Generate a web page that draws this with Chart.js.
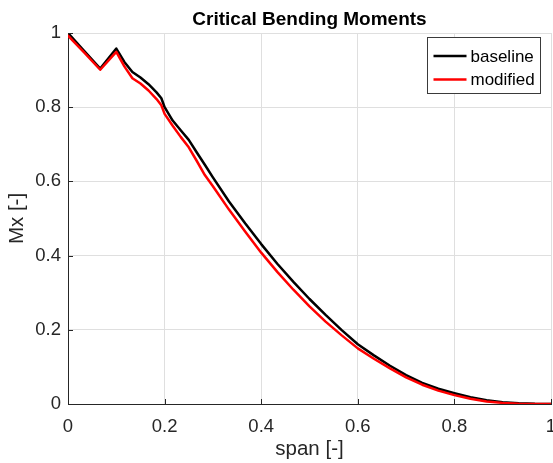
<!DOCTYPE html>
<html>
<head>
<meta charset="utf-8">
<script src="https://cdn.jsdelivr.net/npm/chart.js@4/dist/chart.umd.min.js"></script>
<style>
  html, body { margin: 0; padding: 0; background: #ffffff; }
  #wrap { width: 553px; height: 463px; position: relative; }
</style>
</head>
<body>
<div id="wrap"><canvas id="c" width="553" height="463"></canvas></div>
<script>
// Spanwise stations (normalised span) shared by both series
const span = [0, 0.0333, 0.0667, 0.1, 0.1167, 0.1333, 0.15, 0.1667, 0.1833, 0.1933,
  0.2, 0.2167, 0.2333, 0.25, 0.2667, 0.2833, 0.3, 0.3333, 0.3667, 0.4,
  0.4333, 0.4667, 0.5, 0.5333, 0.5667, 0.6, 0.6333, 0.6667, 0.7, 0.7333,
  0.7667, 0.8, 0.8333, 0.8667, 0.9, 0.9333, 0.9667, 1];

// Normalised critical bending moment Mx
const baseline = [1.000, 0.952, 0.904, 0.958, 0.922, 0.895, 0.880, 0.862, 0.840, 0.824,
  0.800, 0.764, 0.738, 0.712, 0.678, 0.645, 0.611, 0.546, 0.487, 0.431,
  0.378, 0.329, 0.283, 0.240, 0.199, 0.161, 0.131, 0.103, 0.078, 0.057,
  0.041, 0.029, 0.018, 0.010, 0.005, 0.002, 0.0005, 0];

const modified = [0.993, 0.948, 0.901, 0.949, 0.910, 0.878, 0.864, 0.845, 0.822, 0.805,
  0.782, 0.750, 0.720, 0.692, 0.655, 0.617, 0.587, 0.524, 0.465, 0.408,
  0.356, 0.308, 0.263, 0.222, 0.185, 0.150, 0.122, 0.096, 0.072, 0.052,
  0.036, 0.024, 0.014, 0.007, 0.003, 0.001, 0, 0];

const seriesNames = ['baseline', 'modified'];
const seriesColors = ['#000000', '#ff0000'];

const xTicks = [0, 0.2, 0.4, 0.6, 0.8, 1];
const yTicks = [0, 0.2, 0.4, 0.6, 0.8, 1];
const tickLabel = v => String(Math.round(v * 10) / 10);

const FONT = '"Liberation Sans", Arial, Helvetica, sans-serif';
const AXIS_COLOR = '#262626';
const GRID_COLOR = '#dfdfdf';

const toPoints = ys => span.map((x, i) => ({ x: x, y: ys[i] }));

// Inward tick marks on the left and bottom axes
const innerTicks = {
  id: 'innerTicks',
  afterDatasetsDraw(chart) {
    const { ctx, chartArea: a, scales } = chart;
    const len = 5;
    ctx.save();
    ctx.strokeStyle = AXIS_COLOR;
    ctx.lineWidth = 1;
    ctx.beginPath();
    xTicks.forEach(v => {
      const px = Math.round(scales.x.getPixelForValue(v)) + 0.5;
      ctx.moveTo(px, a.bottom);
      ctx.lineTo(px, a.bottom - len);
    });
    yTicks.forEach(v => {
      const py = Math.round(scales.y.getPixelForValue(v)) + 0.5;
      ctx.moveTo(a.left, py);
      ctx.lineTo(a.left + len, py);
    });
    ctx.stroke();
    ctx.restore();
  }
};

// Boxed legend in the upper-right corner of the plot area
const boxLegend = {
  id: 'boxLegend',
  afterDraw(chart) {
    const { ctx, chartArea: a } = chart;
    const w = 113, h = 56;
    const x0 = Math.round(a.right - 11 - w) + 0.5;
    const y0 = Math.round(a.top + 4) + 0.5;
    ctx.save();
    ctx.fillStyle = '#ffffff';
    ctx.fillRect(x0, y0, w, h);
    ctx.strokeStyle = '#3a3a3a';
    ctx.lineWidth = 1;
    ctx.strokeRect(x0, y0, w, h);
    ctx.font = '17px ' + FONT;
    ctx.textBaseline = 'middle';
    ctx.textAlign = 'left';
    chart.data.datasets.forEach((ds, i) => {
      const ry = y0 + 18.5 + i * 23.5;
      ctx.strokeStyle = ds.borderColor;
      ctx.lineWidth = 2.5;
      ctx.beginPath();
      ctx.moveTo(x0 + 6, ry);
      ctx.lineTo(x0 + 39, ry);
      ctx.stroke();
      ctx.fillStyle = '#000000';
      ctx.fillText(ds.label, x0 + 43, ry + 1);
    });
    ctx.restore();
  }
};

new Chart(document.getElementById('c'), {
  type: 'scatter',
  data: {
    datasets: [
      { label: seriesNames[0], data: toPoints(baseline), borderColor: seriesColors[0],
        backgroundColor: seriesColors[0], order: 2 },
      { label: seriesNames[1], data: toPoints(modified), borderColor: seriesColors[1],
        backgroundColor: seriesColors[1], order: 1 }
    ]
  },
  options: {
    responsive: false,
    animation: false,
    showLine: true,
    layout: { padding: { left: 0, right: 2, top: 0, bottom: 0 } },
    elements: {
      line: { borderWidth: 2.5, tension: 0, borderCapStyle: 'round', borderJoinStyle: 'round' },
      point: { radius: 0, hoverRadius: 0 }
    },
    plugins: {
      legend: { display: false },
      tooltip: { enabled: false },
      title: {
        display: true,
        text: 'Critical Bending Moments',
        color: '#000000',
        font: { family: FONT, size: 19, weight: 'bold', lineHeight: 1.2 },
        padding: { top: 8, bottom: 2.2 },
        fullSize: false
      }
    },
    scales: {
      x: {
        type: 'linear',
        min: 0, max: 1,
        afterBuildTicks: s => { s.ticks = xTicks.map(v => ({ value: v })); },
        afterFit: s => { s.height = 59; s.paddingLeft = 0; s.paddingRight = 0; },
        ticks: {
          callback: tickLabel,
          color: AXIS_COLOR,
          font: { family: FONT, size: 18.5 },
          padding: 12,
          maxRotation: 0
        },
        grid: { color: GRID_COLOR, lineWidth: 1, drawTicks: false },
        border: { color: AXIS_COLOR, width: 1 },
        title: {
          display: true,
          text: 'span [-]',
          color: AXIS_COLOR,
          font: { family: FONT, size: 20.5 },
          padding: { top: 0, bottom: 1 }
        }
      },
      y: {
        type: 'linear',
        min: 0, max: 1,
        afterBuildTicks: s => { s.ticks = yTicks.map(v => ({ value: v })); },
        afterFit: s => { s.width = 68; s.paddingTop = 0; s.paddingBottom = 0; },
        ticks: {
          callback: tickLabel,
          color: AXIS_COLOR,
          font: { family: FONT, size: 18.5 },
          padding: 7
        },
        grid: { color: GRID_COLOR, lineWidth: 1, drawTicks: false },
        border: { color: AXIS_COLOR, width: 1 },
        title: {
          display: true,
          text: 'Mx [-]',
          color: AXIS_COLOR,
          font: { family: FONT, size: 20.5 },
          padding: { top: 5, bottom: 0 }
        }
      }
    }
  },
  plugins: [innerTicks, boxLegend]
});
</script>
</body>
</html>
